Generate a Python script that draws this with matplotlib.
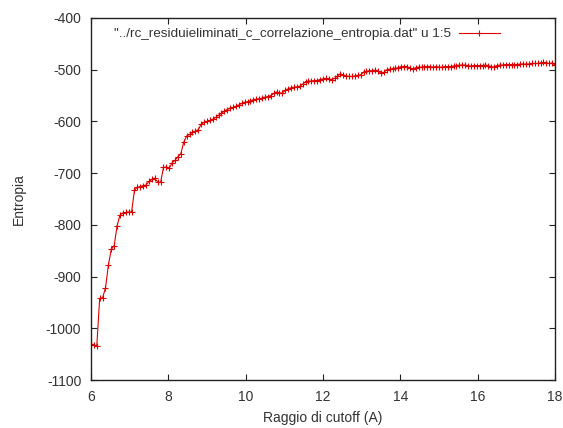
import numpy as np
import matplotlib.pyplot as plt

# cutoff radius (A), step 0.075 from 6 to 18
raggio = np.round(np.arange(161) * 0.075 + 6.0, 3)

entropia = [
    -1030, -1032, -1034, -942, -941, -922, -878, -847, -840, -802,
    -781, -777, -776, -775, -775, -733, -727, -726, -724, -723,
    -716, -712, -710, -717, -718, -689, -688, -690, -680, -675,
    -668, -662, -640, -628, -625, -621, -619, -616, -605, -602,
    -600, -598, -596, -592, -588, -584, -580, -577, -574, -573,
    -571, -568, -565, -563, -562, -560, -558, -557, -556, -555,
    -553, -552, -550, -546, -543, -546, -545, -540, -537, -535,
    -534, -533, -532, -528, -523, -522, -522, -521, -521, -519,
    -518, -517, -518, -519, -517, -512, -508, -510, -512, -513,
    -513, -512, -511, -510, -505, -503, -502, -502, -501, -502,
    -507, -505, -500, -499, -498, -497, -496, -494, -494, -494,
    -497, -499, -496, -495, -495, -494, -494, -494, -495, -494,
    -495, -495, -494, -494, -494, -493, -492, -491, -491, -491,
    -492, -493, -492, -492, -492, -492, -491, -492, -494, -495,
    -492, -491, -491, -490, -490, -490, -490, -490, -489, -489,
    -489, -489, -488, -488, -488, -487, -486, -487, -488, -487,
    -491,
]

legend_label = '"../rc_residuieliminati_c_correlazione_entropia.dat" u 1:5'

plt.rcParams['font.family'] = ['Liberation Sans', 'DejaVu Sans']
plt.rcParams['axes.unicode_minus'] = False

fig = plt.figure(figsize=(5.63, 4.28), dpi=100)
ax = fig.add_axes([0.1616, 0.112, 0.8242, 0.846])

ax.plot(raggio, entropia, color='#dd0000', lw=0.8, marker='+', ms=5,
        mew=0.8, label=legend_label)

ax.set_xlim(6, 18)
ax.set_ylim(-1100, -400)
ax.set_xticks(np.arange(6, 19, 2))
ax.set_yticks(np.arange(-1100, -399, 100))
ax.tick_params(direction='in', top=True, right=True, labelsize=10,
               length=4, width=0.8, pad=7, colors='#222222')
ax.tick_params(axis='both', labelcolor='#333333')
for s in ax.spines.values():
    s.set_linewidth(1.0)
    s.set_color('#222222')

ax.set_xlabel('Raggio di cutoff (A)', fontsize=10, color='#333333', labelpad=5)
ax.set_ylabel('Entropia', fontsize=10, color='#333333', labelpad=14)

leg = ax.legend(loc='upper right', bbox_to_anchor=(0.898, 0.995), frameon=False,
                markerfirst=False, numpoints=1, handlelength=3.0, fontsize=9.7,
                borderaxespad=0.2, handletextpad=0.6)
for t in leg.get_texts():
    t.set_color('#333333')

fig.savefig('out.png', dpi=100)
